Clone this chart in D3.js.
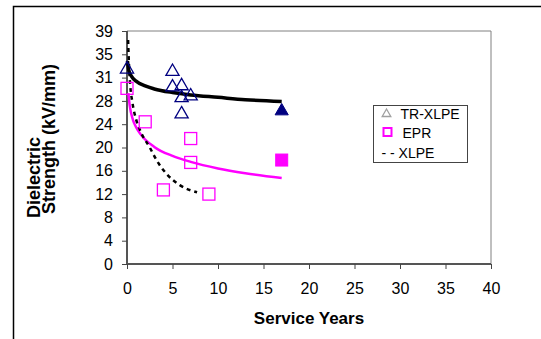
<!DOCTYPE html>
<html>
<head>
<meta charset="utf-8">
<script src="https://cdn.jsdelivr.net/npm/d3@7/dist/d3.min.js"></script>
<style>
  body { margin: 0; background: #fff; }
  svg text { font-family: "Liberation Sans", Arial, sans-serif; }
</style>
</head>
<body>
<div id="chart"></div>
<script>
(function () {
    // measured points
    var trX = [0, 5, 5, 6, 6, 6, 7];
    var trY = [32.6, 32.2, 29.6, 29.8, 27.8, 25.1, 28.1];
    var trFilledX = [17];
    var trFilledY = [25.6];

    var eprX = [0, 2, 4, 7, 7, 9];
    var eprY = [29.4, 23.8, 12.4, 21.0, 17.0, 11.7];
    var eprFilledX = [17];
    var eprFilledY = [17.4];

    // trend lines
    var trLineX = [0.05, 0.2, 0.5, 1, 2, 3, 5, 7, 10, 13, 17];
    var trLineY = [34.0, 32.4, 31.4, 30.6, 29.8, 29.3, 28.7, 28.3, 27.9, 27.5, 27.2];
    var eprLineX = [0.15, 0.3, 0.66, 1, 1.5, 3, 5, 7, 10, 13, 17];
    var eprLineY = [28.6, 26.5, 24.1, 22.9, 21.7, 19.6, 18.1, 17.1, 16.0, 15.2, 14.4];
    var xlpeLineX = [0.12, 0.2, 0.35, 0.6, 1.0, 1.4, 2.5, 3.4, 4.4, 5.8, 7.7];
    var xlpeLineY = [37.5, 34.0, 30.0, 27.0, 24.2, 22.5, 19.5, 17.0, 15.0, 13.2, 12.0];

    var xTicks = [0, 5, 10, 15, 20, 25, 30, 35, 40];
    var yTickLabels = ['0', '4', '8', '12', '16', '20', '24', '28', '31', '35', '39'];

    var legendLabels = ['TR-XLPE', 'EPR', 'XLPE'];

    var width = 541, height = 339;
    var svg = d3.select('#chart').append('svg')
        .attr('width', width)
        .attr('height', height);

    // outer frame
    svg.append('path')
        .attr('d', 'M13.5,339 L13.5,6.5 L541,6.5')
        .attr('fill', 'none')
        .attr('stroke', '#000')
        .attr('stroke-width', 1.5);

    var x = d3.scaleLinear().domain([0, 40]).range([127, 491]);
    var y = d3.scaleLinear().domain([0, 39]).range([264, 31]);

    // plot area border (top + right)
    svg.append('path')
        .attr('d', 'M' + x(0) + ',' + y(39) + ' L' + x(40) + ',' + y(39) + ' L' + x(40) + ',' + y(0))
        .attr('fill', 'none')
        .attr('stroke', '#808080')
        .attr('stroke-width', 1);

    var yTickVals = yTickLabels.map(function (d, i) { return i * 3.9; });

    var yAxis = d3.axisLeft(y)
        .tickValues(yTickVals)
        .tickSize(5)
        .tickPadding(9)
        .tickFormat(function (d, i) { return yTickLabels[i]; });
    var gy = svg.append('g')
        .attr('transform', 'translate(' + x(0) + ',0)')
        .call(yAxis);

    var xAxis = d3.axisBottom(x)
        .tickValues(xTicks)
        .tickSize(5)
        .tickPadding(14)
        .tickFormat(d3.format('d'));
    var gx = svg.append('g')
        .attr('transform', 'translate(0,' + y(0) + ')')
        .call(xAxis);

    [gx, gy].forEach(function (g) {
        g.select('.domain').attr('stroke', '#555').attr('stroke-width', 2);
        g.selectAll('.tick line').attr('stroke', '#444').attr('stroke-width', 1);
        g.selectAll('.tick text')
            .attr('font-size', 16)
            .attr('fill', '#000')
            .style('font-family', '"Liberation Sans", Arial, sans-serif');
    });
    gx.select('.domain').attr('d', 'M' + x(0) + ',0H' + x(40));
    gy.select('.domain').attr('d', 'M0,' + y(0) + 'V' + y(39));

    // axis titles
    svg.append('text')
        .attr('x', 309)
        .attr('y', 324)
        .attr('text-anchor', 'middle')
        .attr('font-size', 17)
        .attr('font-weight', 'bold')
        .text('Service Years');

    var yt = svg.append('text')
        .attr('transform', 'rotate(-90)')
        .attr('text-anchor', 'start')
        .attr('font-size', 18)
        .attr('font-weight', 'bold');
    yt.append('tspan').attr('x', -218).attr('y', 40).text('Dielectric');
    yt.append('tspan').attr('x', -214).attr('y', 55).text('Strength (kV/mm)');

    // trend lines
    var line = d3.line()
        .x(function (d) { return x(d[0]); })
        .y(function (d) { return y(d[1]); })
        .curve(d3.curveMonotoneX);

    function pairs(xs, ys) { return xs.map(function (v, i) { return [v, ys[i]]; }); }

    svg.append('path')
        .datum(pairs(eprLineX, eprLineY))
        .attr('d', line)
        .attr('fill', 'none')
        .attr('stroke', '#ff00ff')
        .attr('stroke-width', 2.5);

    svg.append('path')
        .datum(pairs(xlpeLineX, xlpeLineY))
        .attr('d', line)
        .attr('fill', 'none')
        .attr('stroke', '#000')
        .attr('stroke-width', 2.5)
        .attr('stroke-dasharray', '4,4');

    svg.append('path')
        .datum(pairs(trLineX, trLineY))
        .attr('d', line)
        .attr('fill', 'none')
        .attr('stroke', '#000')
        .attr('stroke-width', 3.5);

    // markers
    var tri = d3.symbol().type(d3.symbolTriangle).size(75);
    var navy = '#000080', magenta = '#ff00ff';

    svg.selectAll('.tr')
        .data(pairs(trX, trY))
        .enter().append('path')
        .attr('class', 'tr')
        .attr('d', tri)
        .attr('transform', function (d) { return 'translate(' + x(d[0]) + ',' + y(d[1]) + ')'; })
        .attr('fill', 'none')
        .attr('stroke', navy)
        .attr('stroke-width', 1.3);

    svg.selectAll('.trf')
        .data(pairs(trFilledX, trFilledY))
        .enter().append('path')
        .attr('class', 'trf')
        .attr('d', tri)
        .attr('transform', function (d) { return 'translate(' + x(d[0]) + ',' + y(d[1]) + ')'; })
        .attr('fill', navy)
        .attr('stroke', navy);

    var sq = 12;
    svg.selectAll('.epr')
        .data(pairs(eprX, eprY))
        .enter().append('rect')
        .attr('class', 'epr')
        .attr('x', function (d) { return x(d[0]) - sq / 2; })
        .attr('y', function (d) { return y(d[1]) - sq / 2; })
        .attr('width', sq).attr('height', sq)
        .attr('fill', 'none')
        .attr('stroke', magenta)
        .attr('stroke-width', 1.3);

    svg.selectAll('.eprf')
        .data(pairs(eprFilledX, eprFilledY))
        .enter().append('rect')
        .attr('class', 'eprf')
        .attr('x', function (d) { return x(d[0]) - sq / 2; })
        .attr('y', function (d) { return y(d[1]) - sq / 2; })
        .attr('width', sq).attr('height', sq)
        .attr('fill', magenta)
        .attr('stroke', magenta);

    // legend
    var lg = svg.append('g').attr('transform', 'translate(373.5,105.5)');
    lg.append('rect')
        .attr('width', 94).attr('height', 57)
        .attr('fill', '#fff')
        .attr('stroke', '#444')
        .attr('stroke-width', 1);

    lg.append('path')
        .attr('d', d3.symbol().type(d3.symbolTriangle).size(32))
        .attr('transform', 'translate(13,8.5)')
        .attr('fill', 'none')
        .attr('stroke', '#a0a0a0')
        .attr('stroke-width', 1.3);
    lg.append('rect')
        .attr('x', 10).attr('y', 22.5).attr('width', 8).attr('height', 8)
        .attr('fill', 'none')
        .attr('stroke', magenta)
        .attr('stroke-width', 2);

    lg.selectAll('.lt')
        .data(legendLabels)
        .enter().append('text')
        .attr('class', 'lt')
        .attr('x', function (d, i) { return i === 2 ? 8 : (i === 0 ? 27 : 29); })
        .attr('y', function (d, i) { return 13 + i * 19.5; })
        .attr('font-size', 14)
        .text(function (d, i) { return i === 2 ? '- - ' + d : d; });
})();
</script>
</body>
</html>
